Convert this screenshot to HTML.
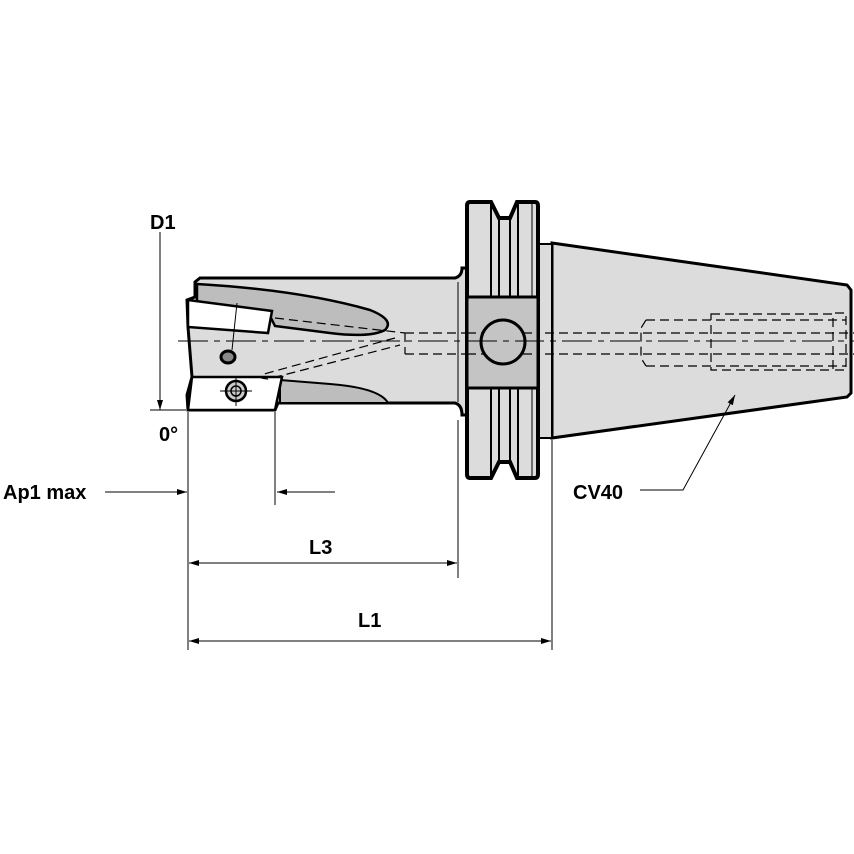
<!DOCTYPE html>
<html><head><meta charset="utf-8"><style>
html,body{margin:0;padding:0;background:#fff}
svg{display:block}
text{font-family:"Liberation Sans",Arial,sans-serif;font-weight:bold;fill:#000}
</style></head><body>
<svg width="854" height="854" viewBox="0 0 854 854" xmlns="http://www.w3.org/2000/svg">
<defs>
<marker id="ar" viewBox="0 0 10 6" refX="10" refY="3" markerWidth="10" markerHeight="6" orient="auto" markerUnits="userSpaceOnUse"><path d="M0,0 L10,3 L0,6 z" fill="#000"/></marker>
</defs>
<!-- cone -->
<path d="M552,243 L847,285 L851,290 L851,393 L847,397 L552,438 Z" fill="#dcdcdc" stroke="#000" stroke-width="3"/>
<rect x="538" y="244" width="14" height="194" fill="#dcdcdc" stroke="#000" stroke-width="2"/>
<!-- body -->
<path d="M200,278 L455,278 Q462,276 462,268 L467,268 L467,415 L462,415 Q462,405 455,403 L278,403 L275,410 L188,410 L187,395 L192,377 L188,327 L187,300 L195,297 L195,282 Z" fill="#dcdcdc" stroke="#000" stroke-width="3"/>
<line x1="458" y1="282" x2="458" y2="402" stroke="#000" stroke-width="1"/>
<!-- flutes -->
<path d="M197,284 Q300,290 370,310 Q395,320 385,330 Q370,338 330,333 L275,326 L268,312 L197,302 Z" fill="#bdbdbd" stroke="#000" stroke-width="2.5"/>
<path d="M280,380 L330,384 Q380,388 388,403 L280,403 Z" fill="#bdbdbd" stroke="#000" stroke-width="2"/>
<!-- insert white -->
<path d="M188,300 L272,311 L268,333 L188,327 Z" fill="#fff" stroke="#000" stroke-width="2.5"/>
<path d="M192,377 L282,377 L275,410 L188,410 Z" fill="#fff" stroke="#000" stroke-width="2.5"/>
<line x1="237" y1="303" x2="232" y2="350" stroke="#000" stroke-width="1"/>
<ellipse cx="228" cy="357" rx="7" ry="6" fill="#888" stroke="#000" stroke-width="3"/>
<circle cx="236" cy="391" r="10" fill="#ccc" stroke="#000" stroke-width="2.5"/>
<circle cx="236" cy="391" r="5" fill="none" stroke="#000" stroke-width="1.5"/>
<line x1="220" y1="391" x2="252" y2="391" stroke="#000" stroke-width="1"/>
<line x1="236" y1="376" x2="236" y2="406" stroke="#000" stroke-width="1"/>
<!-- hidden lines -->
<g stroke="#000" stroke-width="1.2" stroke-dasharray="9,5" fill="none">
<path d="M275,318 L405,333"/>
<path d="M405,333 L855,333"/>
<path d="M405,354 L855,354"/>
<path d="M395,338 L264,374 Q255,378 268,379 L400,345"/>
<path d="M405,333 L405,354"/>
<path d="M646,320 L846,320 M646,366 L846,366 M646,320 L641,328 L641,358 L646,366"/>
<path d="M711,314 L833,314 L833,370 L711,370 Z"/>
<path d="M835,313 L846,313 L846,370 L835,370"/>
</g>
<line x1="178" y1="341" x2="854" y2="341" stroke="#000" stroke-width="1" stroke-dasharray="30,6,6,6"/>
<!-- flange -->
<path d="M470,202 L491,202 L499,218 L510,218 L517,202 L535,202 Q538,202 538,206 L538,474 Q538,478 535,478 L517,478 L510,462 L499,462 L491,478 L470,478 Q467,478 467,474 L467,206 Q467,202 470,202 Z" fill="#dcdcdc" stroke="#000" stroke-width="4"/>
<g stroke="#000" stroke-width="2"><line x1="491" y1="204" x2="491" y2="476"/><line x1="499" y1="218" x2="499" y2="462"/><line x1="510" y1="218" x2="510" y2="462"/><line x1="518" y1="204" x2="518" y2="476"/><line x1="532" y1="204" x2="532" y2="476" stroke-width="1"/></g>
<rect x="467" y="297" width="71" height="91" fill="#c4c4c4" stroke="#000" stroke-width="3"/>
<line x1="467" y1="333" x2="538" y2="333" stroke="#000" stroke-width="1.2" stroke-dasharray="9,5"/>
<line x1="467" y1="354" x2="538" y2="354" stroke="#000" stroke-width="1.2" stroke-dasharray="9,5"/>
<circle cx="503" cy="342" r="22" fill="#c4c4c4" stroke="#000" stroke-width="3"/>
<line x1="467" y1="341" x2="538" y2="341" stroke="#000" stroke-width="1" stroke-dasharray="30,6,6,6"/>
<!-- dimensions -->
<g stroke="#000" stroke-width="1" fill="none">
<line x1="160" y1="232" x2="160" y2="410" marker-end="url(#ar)"/>
<line x1="150" y1="410" x2="186" y2="410"/>
<line x1="188" y1="412" x2="188" y2="650"/>
<line x1="275" y1="412" x2="275" y2="505"/>
<line x1="458" y1="420" x2="458" y2="578"/>
<line x1="552" y1="440" x2="552" y2="650"/>
<line x1="105" y1="492" x2="187" y2="492" marker-end="url(#ar)"/>
<line x1="335" y1="492" x2="277" y2="492" marker-end="url(#ar)"/>
<line x1="320" y1="563" x2="189" y2="563" marker-end="url(#ar)"/>
<line x1="320" y1="563" x2="457" y2="563" marker-end="url(#ar)"/>
<line x1="370" y1="641" x2="189" y2="641" marker-end="url(#ar)"/>
<line x1="370" y1="641" x2="551" y2="641" marker-end="url(#ar)"/>
<polyline points="640,490 683,490 735,395" marker-end="url(#ar)"/>
</g>
<text x="150" y="229" font-size="20">D1</text>
<text x="159" y="441" font-size="20">0°</text>
<text x="3" y="499" font-size="20">Ap1 max</text>
<text x="309" y="554" font-size="20">L3</text>
<text x="358" y="627" font-size="20">L1</text>
<text x="573" y="499" font-size="20">CV40</text>
</svg>
</body></html>
